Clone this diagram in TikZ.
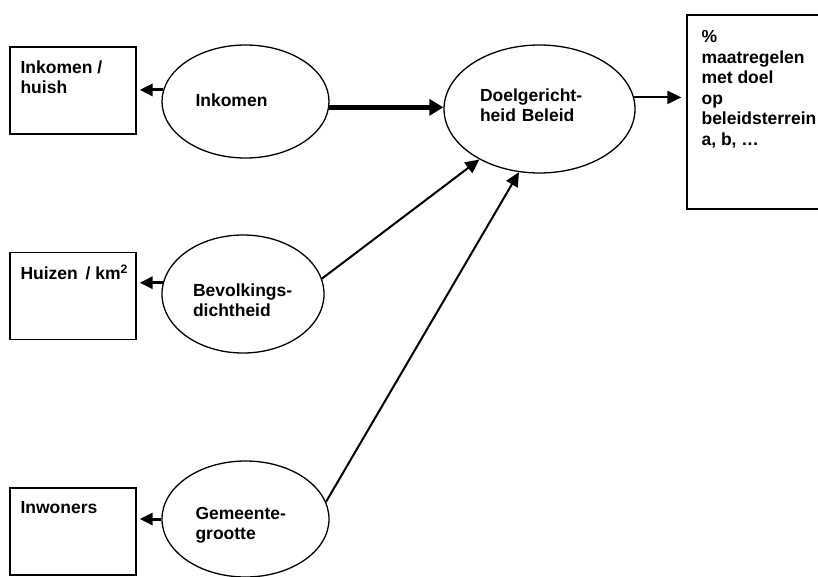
\documentclass[tikz,border=0pt]{standalone}
\usepackage{fontspec}
\setmainfont{Liberation Sans}
\usetikzlibrary{shapes.geometric,arrows.meta}

\begin{document}
\begin{tikzpicture}[
  x=1pt,y=-1pt,
  font=\fontsize{17.5}{20.5}\selectfont\bfseries,
  factor/.style={draw,ellipse,line width=1.3pt,inner sep=0pt},
  factortekst/.style={inner sep=0pt,text width=100pt,align=left},
  meetbox/.style={draw,line width=1.3pt,minimum width=126pt,minimum height=87pt},
  boxtext/.style={anchor=north west,inner sep=0pt,align=left},
  naarmeet/.style={-{Triangle[length=13pt,width=12pt]},line width=3pt,shorten >=3pt},
  invloed/.style={-{Triangle[length=14pt,width=13pt]},line width=2pt}
]
  \useasboundingbox (0,0) rectangle (818,576);

  \node[factor,minimum width=167pt,minimum height=113pt] (ink) at (245.5,101.5) {};
  \node[factor,minimum width=162pt,minimum height=118pt] (bev) at (243,294) {};
  \node[factor,minimum width=167pt,minimum height=116pt] (gem) at (245.5,519) {};
  \node[factor,minimum width=191pt,minimum height=128pt] (doel) at (539.5,109) {};

  \node[factortekst] (inktekst) at ([yshift=1pt]ink.center) {Inkomen};
  \node[factortekst] (bevtekst) at ([yshift=-6pt]bev.center) {Bevolkings-\\dichtheid};
  \node[factortekst] (gemtekst) at ([yshift=-6pt]gem.center) {Gemeente-\\grootte};
  \node[factortekst,text width=119pt] (doeltekst) at ([yshift=4pt]doel.center) {Doelgericht-\\heid Beleid};

  \node[meetbox] (inkbox) at (73,90.5) {};
  \node[meetbox] (huisbox) at (73,296) {};
  \node[meetbox] (inwbox) at (73,531.5) {};
  \node[draw,line width=1.3pt,minimum width=143pt,minimum height=194pt] (maatbox) at (758.5,112) {};

  \node[boxtext] (inktxt) at ([shift={(11,14)}]inkbox.north west) {Inkomen /\\huish};
  \node[boxtext] (huistxt) at ([shift={(11,13)}]huisbox.north west) {Huizen\, / km\textsuperscript{2}};
  \node[boxtext] (inwtxt) at ([shift={(11,14)}]inwbox.north west) {Inwoners};
  \node[boxtext] (maattxt) at ([shift={(15,16)}]maatbox.north west)
    {\%\\maatregelen\\met doel\\op\\beleidsterrein\\a, b, \dots};

  \draw[naarmeet] (ink.172) -- (ink.172 -| inkbox.east);
  \draw[naarmeet] (bev.172) -- (bev.172 -| huisbox.east);
  \draw[naarmeet] (gem.west) -- (gem.west -| inwbox.east);
  \draw[-{Triangle[length=14pt,width=16pt]},line width=5pt] (ink.-4) -- (ink.-4 -| doel.west);
  \draw[invloed,shorten >=5pt] (doel.7) -- (doel.7 -| maatbox.west);
  \draw[invloed] (bev.11) -- (doel.220);
  \draw[invloed] (gem.12) -- (doel.252);
\end{tikzpicture}
\end{document}
